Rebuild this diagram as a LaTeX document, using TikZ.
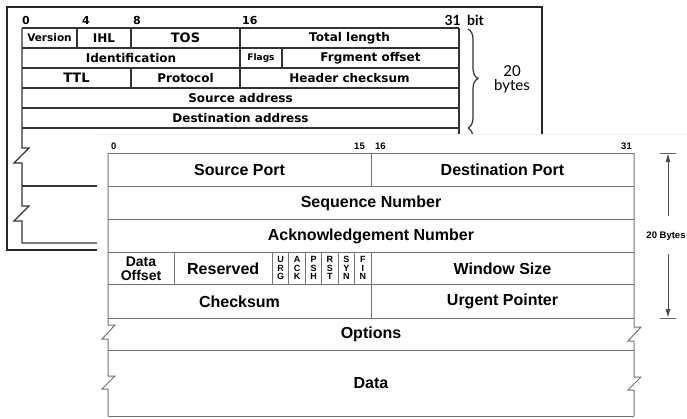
\documentclass[tikz,border=0pt]{standalone}
\usepackage{fontspec}
\setmainfont{Liberation Sans}
\newfontfamily\vfam{DejaVu Sans}
\newfontfamily\lfam{Lato}
\usetikzlibrary{decorations.pathreplacing,arrows.meta}

\begin{document}
\begin{tikzpicture}[x=1pt,y=-1pt,
  ipframe/.style={draw=black!85,line width=1.5pt},
  ipline/.style={draw=black!80,line width=1.3pt},
  tcpline/.style={draw=black!55,line width=1pt},
  iplab/.style={inner sep=0pt,font=\vfam\bfseries\fontsize{12}{12}\selectfont},
  ipnum/.style={inner sep=0pt,font=\vfam\bfseries\fontsize{11}{11}\selectfont},
  sidelab/.style={inner sep=0pt,font=\lfam\bfseries\fontsize{15}{15}\selectfont},
  tcplab/.style={inner sep=0pt,font=\bfseries\fontsize{16}{16}\selectfont},
  flaglab/.style={inner sep=0pt,align=center,font=\bfseries\fontsize{9}{8.8}\selectfont},
  tcpnum/.style={inner sep=0pt,font=\bfseries\fontsize{9.5}{9.5}\selectfont},
  sizearrow/.style={draw=black!70,line width=0.9pt,-{Triangle[length=8pt,width=4.5pt]}},
  tick/.style={draw=black!60,line width=0.9pt}]
\useasboundingbox (0,0) rectangle (687,418);
\fill[white] (0,0) rectangle (687,418);

% ---------------- IPv4 header (behind) ----------------
\draw[ipframe] (7,7) rectangle (542,250);
\foreach \y in {28,48,68,88,108,128}
  \draw[ipline] (22,\y) -- (459,\y);
\draw[ipline] (459,28) -- (459,160);
\draw[ipline] (77,28) -- (77,48);
\draw[ipline] (131,28) -- (131,48) (131,68) -- (131,88);
\draw[ipline] (240,28) -- (240,88);
\draw[ipline] (282,48) -- (282,68);
% left edge with break marks
\draw[ipline] (22,28) -- (22,148) -- (29,148) -- (14,163) -- (22,163)
  -- (22,206) -- (29,206) -- (14,221) -- (22,221) -- (22,243) -- (110,243);
\draw[ipline] (22,186) -- (110,186);

% bit positions
\node[ipnum,anchor=base west] (b0) at (22,24) {0};
\node[ipnum,anchor=base west] (b4) at (82,24) {4};
\node[ipnum,anchor=base west] (b8) at (133,24) {8};
\node[ipnum,anchor=base west] (b16) at (242,24) {16};
\node[sidelab,font=\lfam\bfseries\fontsize{14}{14}\selectfont,anchor=base east] (b31) at (461,25) {31};
\node[sidelab,font=\lfam\bfseries\fontsize{14}{14}\selectfont,anchor=base west] (bbit) at (467,25) {bit};

% field names
\node[iplab,font=\vfam\bfseries\fontsize{10.5}{10.5}\selectfont] (ver) at (49.5,38) {Version};
\node[iplab] (ihl) at (104,38) {IHL};
\node[iplab,font=\vfam\bfseries\fontsize{13}{13}\selectfont] (tos) at (185.5,38) {TOS};
\node[iplab] (tlen) at (349.5,38) {Total length};
\node[iplab] (ident) at (131,58) {Identification};
\node[iplab,font=\vfam\bfseries\fontsize{9}{9}\selectfont] (flags) at (261,58) {Flags};
\node[iplab] (frag) at (370.5,58) {Frgment offset};
\node[iplab,font=\vfam\bfseries\fontsize{13}{13}\selectfont] (ttl) at (76.5,78) {TTL};
\node[iplab] (proto) at (185.5,78) {Protocol};
\node[iplab] (hcs) at (349.5,78) {Header checksum};
\node[iplab] (src) at (240.5,98) {Source address};
\node[iplab] (dst) at (240.5,118) {Destination address};

% brace and size
\draw[draw=black!80,line width=1.2pt,decorate,decoration={brace,amplitude=10pt}]
  (468,29) -- (468,128);
\draw[draw=black!80,line width=1.2pt,decorate,decoration={brace,amplitude=10pt}]
  (468,128) -- (468,230);
\node[sidelab,font=\lfam\fontsize{15}{15}\selectfont,anchor=base] (n20) at (512,76) {20};
\node[sidelab,font=\lfam\fontsize{15}{15}\selectfont,anchor=base] (nbytes) at (512,90) {bytes};

% ---------------- TCP header (in front) ----------------
\fill[white] (97,134) rectangle (687,418);
\draw[black!6,line width=0.8pt] (97,134) -- (687,134);

\foreach \y in {153,186,219,252,284,318,350,416}
  \draw[tcpline] (108,\y) -- (634,\y);
\draw[tcpline] (108,153) -- (108,325) -- (115,325) -- (102,339) -- (108,339)
  -- (108,376) -- (115,376) -- (102,389) -- (108,389) -- (108,416);
\draw[tcpline] (634,153) -- (634,327) -- (641,327) -- (628,341) -- (634,341)
  -- (634,377) -- (641,377) -- (628,390) -- (634,390) -- (634,416);
\draw[tcpline] (371,153) -- (371,186) (371,252) -- (371,318);
\foreach \x in {174,272.4,288.8,305.3,321.7,338.1,354.6}
  \draw[tcpline] (\x,252) -- (\x,284);

% bit positions
\node[tcpnum,anchor=base west] (t0) at (111,149) {0};
\node[tcpnum,anchor=base east] (t15) at (365,149) {15};
\node[tcpnum,anchor=base west] (t16) at (375,149) {16};
\node[tcpnum,anchor=base east] (t31) at (632,149) {31};

% field names
\node[tcplab] (sport) at (239.5,170) {Source Port};
\node[tcplab] (dport) at (502.5,170) {Destination Port};
\node[tcplab] (seq) at (371,203) {Sequence Number};
\node[tcplab] (ack) at (371,236) {Acknowledgement Number};
\node[tcplab,align=center,font=\bfseries\fontsize{14}{13.5}\selectfont] (doff) at (141,268.5) {Data\\Offset};
\node[tcplab] (resv) at (223.2,268.5) {Reserved};
\node[flaglab] (furg) at (280.6,268) {U\\R\\G};
\node[flaglab] (fack) at (297.0,268) {A\\C\\K};
\node[flaglab] (fpsh) at (313.5,268) {P\\S\\H};
\node[flaglab] (frst) at (329.9,268) {R\\S\\T};
\node[flaglab] (fsyn) at (346.3,268) {S\\Y\\N};
\node[flaglab] (ffin) at (362.8,268) {F\\I\\N};
\node[tcplab] (win) at (502.5,268.5) {Window Size};
\node[tcplab] (csum) at (239.5,301.5) {Checksum};
\node[tcplab] (urg) at (502.5,301.5) {Urgent Pointer};
\node[tcplab] (opt) at (371,334.5) {Options};
\node[tcplab] (data) at (371,383.5) {Data};

% header size marker
\node[tcpnum,font=\bfseries\fontsize{9.5}{9.5}\selectfont] (hsize) at (666,236) {20 Bytes};
\coordinate (uptop) at (668,154);
\coordinate (upfoot) at (668,216);
\coordinate (dntop) at (668,254);
\coordinate (dnfoot) at (668,317);
\draw[sizearrow] (upfoot) -- (uptop);
\draw[sizearrow] (dntop) -- (dnfoot);
\draw[tick] (660,153) -- (676,153);
\draw[tick] (660,318) -- (676,318);
\end{tikzpicture}
\end{document}
